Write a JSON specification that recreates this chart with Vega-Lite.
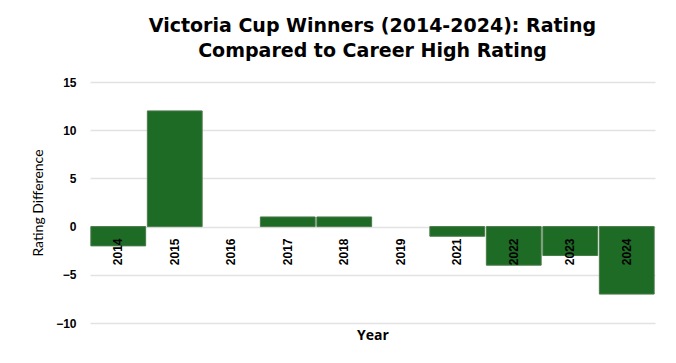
{
  "$schema": "https://vega.github.io/schema/vega-lite/v6.json",
  "width": 565,
  "height": 241,
  "padding": {"left": 31, "top": 17, "right": 21, "bottom": 5},
  "background": "white",
  "title": {
    "text": ["Victoria Cup Winners (2014-2024): Rating", "Compared to Career High Rating"],
    "font": "DejaVu Sans",
    "fontSize": 19,
    "fontWeight": "bold",
    "color": "#000000",
    "lineHeight": 25,
    "anchor": "middle",
    "offset": 15
  },
  "data": {
    "values": [
      {"Year": "2014", "Difference": -2},
      {"Year": "2015", "Difference": 12},
      {"Year": "2016", "Difference": 0},
      {"Year": "2017", "Difference": 1},
      {"Year": "2018", "Difference": 1},
      {"Year": "2019", "Difference": 0},
      {"Year": "2021", "Difference": -1},
      {"Year": "2022", "Difference": -4},
      {"Year": "2023", "Difference": -3},
      {"Year": "2024", "Difference": -7}
    ]
  },
  "mark": {"type": "bar", "color": "#1e6b26", "stroke": "#4a7a4a", "strokeWidth": 1},
  "encoding": {
    "x": {
      "field": "Year",
      "type": "ordinal",
      "sort": null,
      "scale": {"paddingInner": 0.03, "paddingOuter": 0.015},
      "axis": {
        "title": "Year",
        "offset": -96,
        "zindex": 1,
        "labelAngle": -90,
        "labelFont": "Liberation Sans",
        "labelFontSize": 12,
        "labelFontWeight": "bold",
        "labelColor": "#000000",
        "labelPadding": 11,
        "ticks": false,
        "domain": false,
        "titleFont": "Open Sans",
        "titleFontSize": 14,
        "titleFontWeight": "bold",
        "titleColor": "#000000",
        "titleBaseline": "middle",
        "titleY": 108
      }
    },
    "y": {
      "field": "Difference",
      "type": "quantitative",
      "scale": {"domain": [-10, 15], "nice": false},
      "axis": {
        "title": "Rating Difference",
        "values": [-10, -5, 0, 5, 10, 15],
        "labelFont": "Liberation Sans",
        "labelFontSize": 12,
        "labelFontWeight": "bold",
        "labelColor": "#000000",
        "labelPadding": 14,
        "ticks": false,
        "domain": false,
        "grid": true,
        "gridColor": "#e2e2e2",
        "gridWidth": 1.5,
        "titleFont": "Lato",
        "titleFontSize": 14,
        "titleFontWeight": "normal",
        "titleColor": "#000000",
        "titlePadding": 10
      }
    },
    "strokeOpacity": {
      "condition": {"test": "datum.Difference === 0", "value": 0},
      "value": 1
    }
  },
  "config": {"view": {"stroke": null}}
}
